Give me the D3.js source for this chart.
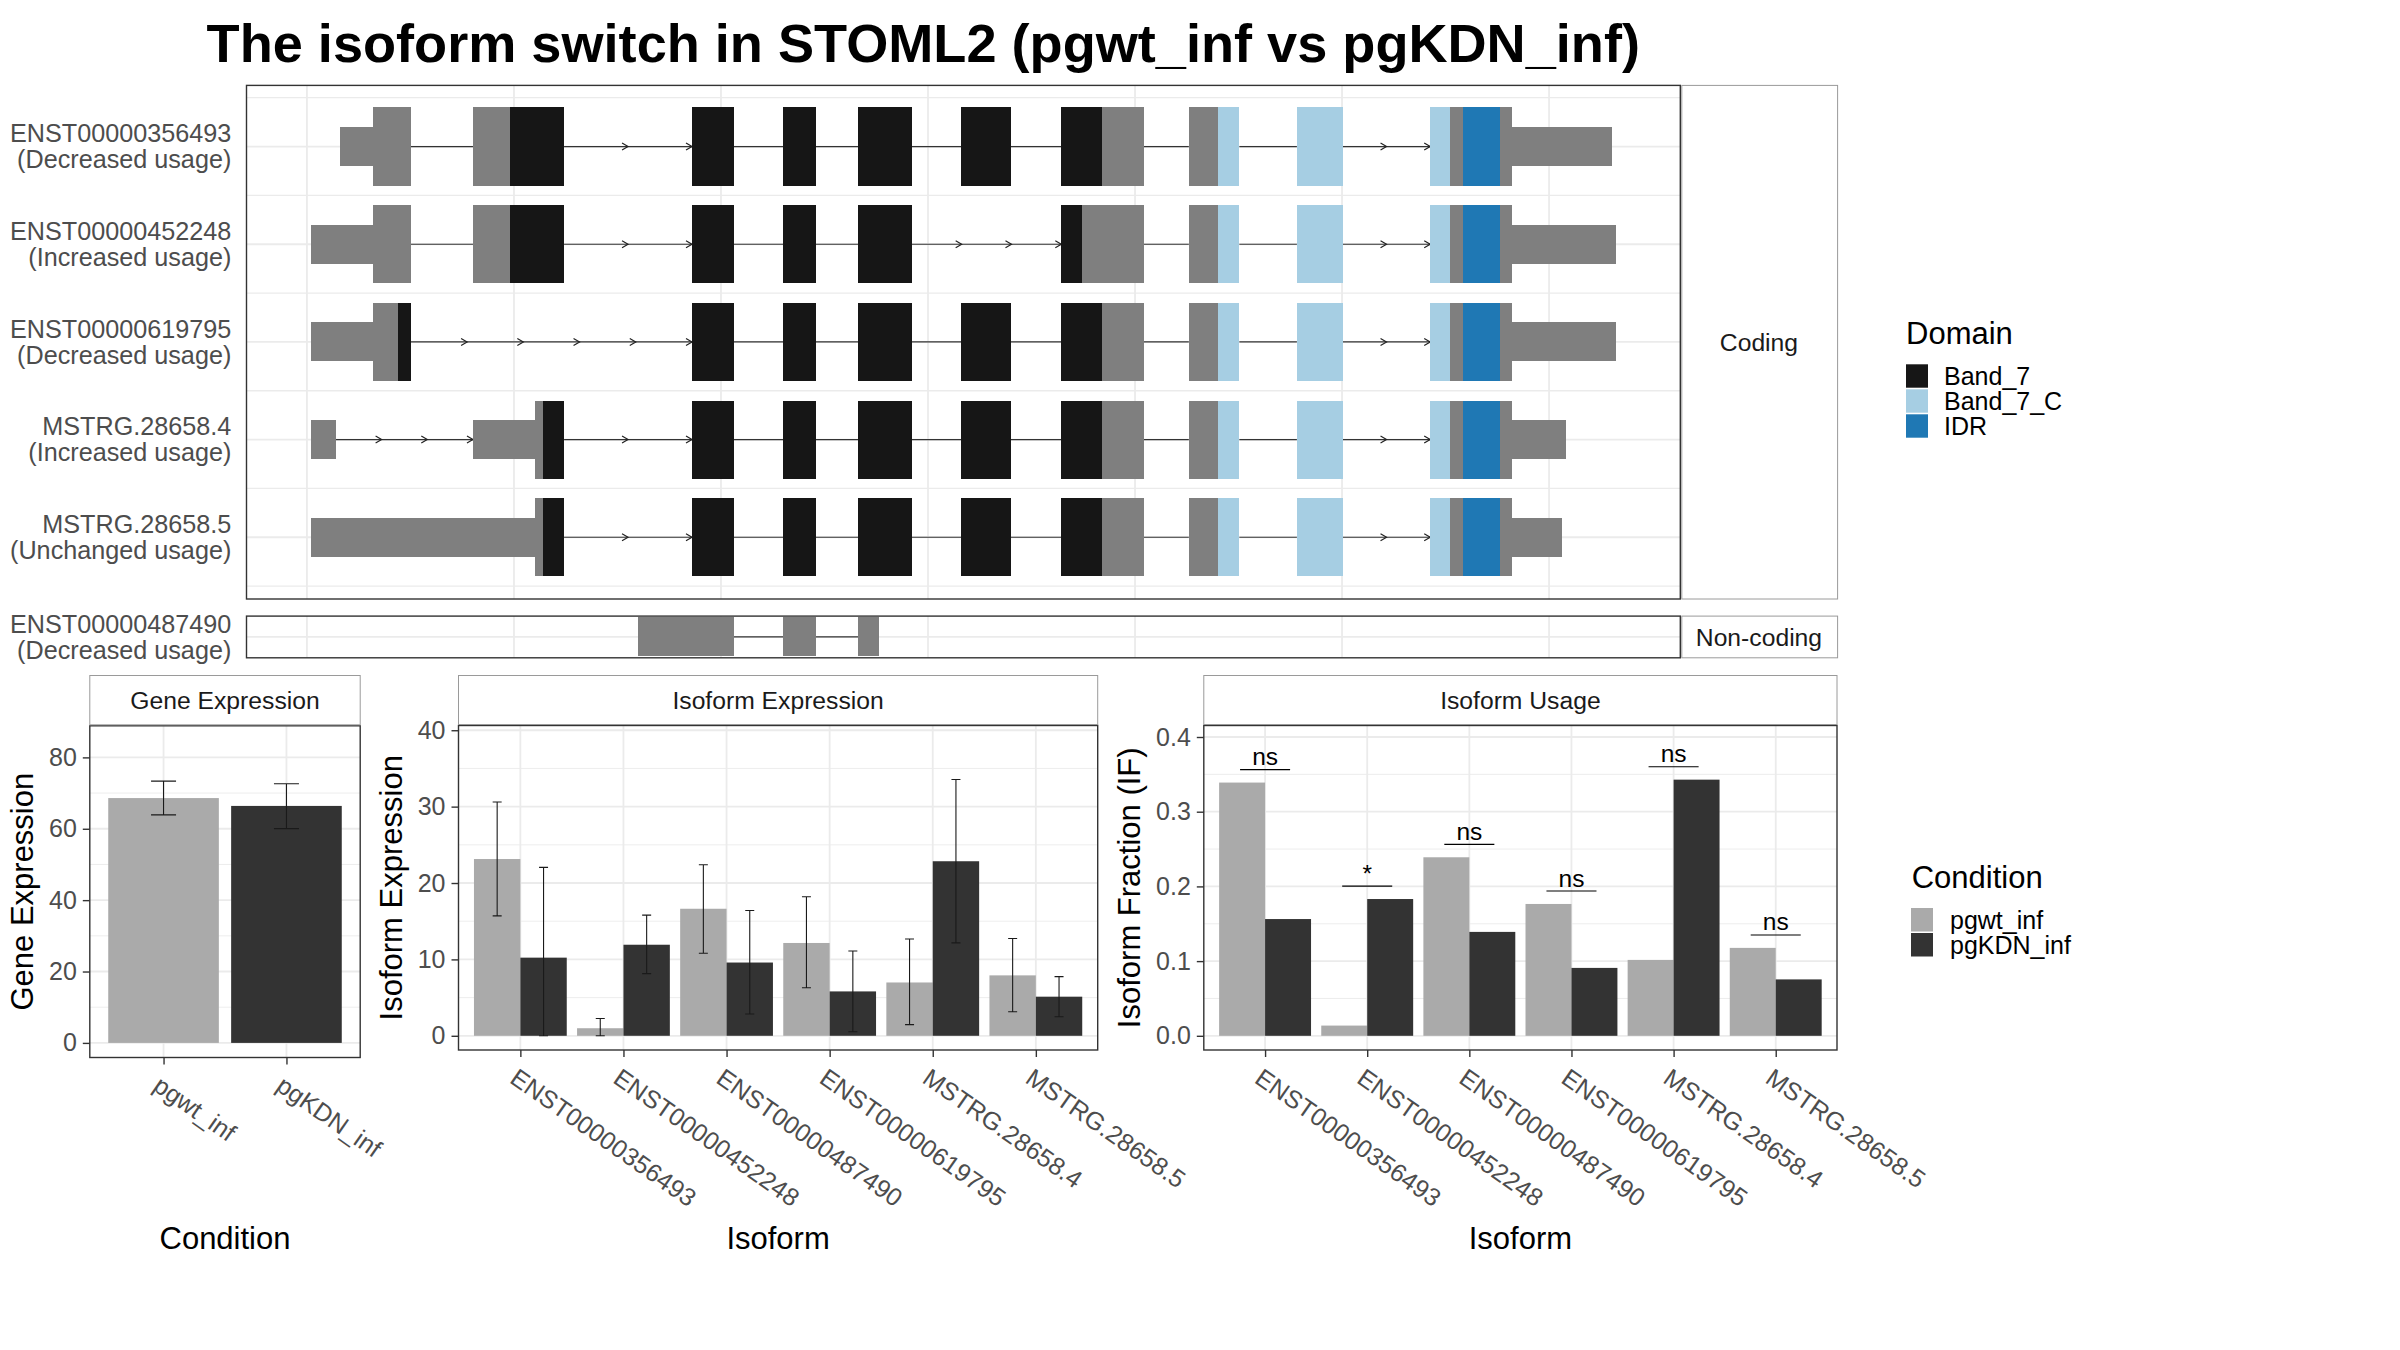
<!DOCTYPE html>
<html>
<head>
<meta charset="utf-8">
<script src="https://cdn.jsdelivr.net/npm/d3@7"></script>
<style>
  body { margin: 0; background: #fff; }
  text { font-family: "Liberation Sans", Arial, Helvetica, sans-serif; }
</style>
</head>
<body>
<svg id="chart" width="2400" height="1350"></svg>
<script>
// ---------- data ----------
const titleText = 'The isoform switch in STOML2 (pgwt_inf vs pgKDN_inf)'

// transcript structure (rescaled genomic coordinates), [start, end, feature]
const codingIds = ['ENST00000356493', 'ENST00000452248', 'ENST00000619795', 'MSTRG.28658.4', 'MSTRG.28658.5']
const codingUsage = ['(Decreased usage)', '(Increased usage)', '(Decreased usage)', '(Increased usage)', '(Unchanged usage)']
const nonCodingIds = ['ENST00000487490']
const nonCodingUsage = ['(Decreased usage)']

const segs356493 = [[579, 660, 'utr'], [660, 751, 'cds'], [901, 991, 'cds'], [991, 1121, 'Band_7'],
  [1430, 1531, 'Band_7'], [1650, 1729, 'Band_7'], [1831, 1961, 'Band_7'], [2080, 2200, 'Band_7'],
  [2322, 2421, 'Band_7'], [2421, 2521, 'cds'], [2630, 2701, 'cds'], [2701, 2752, 'Band_7_C'],
  [2891, 3002, 'Band_7_C'], [3213, 3261, 'Band_7_C'], [3261, 3292, 'cds'], [3292, 3382, 'IDR'],
  [3382, 3411, 'cds'], [3411, 3652, 'utr']]
const segs452248 = [[510, 660, 'utr'], [660, 751, 'cds'], [901, 991, 'cds'], [991, 1121, 'Band_7'],
  [1430, 1531, 'Band_7'], [1650, 1729, 'Band_7'], [1831, 1961, 'Band_7'],
  [2322, 2372, 'Band_7'], [2372, 2521, 'cds'], [2630, 2701, 'cds'], [2701, 2752, 'Band_7_C'],
  [2891, 3002, 'Band_7_C'], [3213, 3261, 'Band_7_C'], [3261, 3292, 'cds'], [3292, 3382, 'IDR'],
  [3382, 3411, 'cds'], [3411, 3662, 'utr']]
const segs619795 = [[510, 660, 'utr'], [660, 720, 'cds'], [720, 751, 'Band_7'],
  [1430, 1531, 'Band_7'], [1650, 1729, 'Band_7'], [1831, 1961, 'Band_7'], [2080, 2200, 'Band_7'],
  [2322, 2421, 'Band_7'], [2421, 2521, 'cds'], [2630, 2701, 'cds'], [2701, 2752, 'Band_7_C'],
  [2891, 3002, 'Band_7_C'], [3213, 3261, 'Band_7_C'], [3261, 3292, 'cds'], [3292, 3382, 'IDR'],
  [3382, 3411, 'cds'], [3411, 3662, 'utr']]
const segs28658_4 = [[510, 570, 'utr'], [901, 1051, 'utr'], [1051, 1070, 'cds'], [1070, 1121, 'Band_7'],
  [1430, 1531, 'Band_7'], [1650, 1729, 'Band_7'], [1831, 1961, 'Band_7'], [2080, 2200, 'Band_7'],
  [2322, 2421, 'Band_7'], [2421, 2521, 'cds'], [2630, 2701, 'cds'], [2701, 2752, 'Band_7_C'],
  [2891, 3002, 'Band_7_C'], [3213, 3261, 'Band_7_C'], [3261, 3292, 'cds'], [3292, 3382, 'IDR'],
  [3382, 3411, 'cds'], [3411, 3541, 'utr']]
const segs28658_5 = [[510, 1051, 'utr'], [1051, 1070, 'cds'], [1070, 1121, 'Band_7'],
  [1430, 1531, 'Band_7'], [1650, 1729, 'Band_7'], [1831, 1961, 'Band_7'], [2080, 2200, 'Band_7'],
  [2322, 2421, 'Band_7'], [2421, 2521, 'cds'], [2630, 2701, 'cds'], [2701, 2752, 'Band_7_C'],
  [2891, 3002, 'Band_7_C'], [3213, 3261, 'Band_7_C'], [3261, 3292, 'cds'], [3292, 3382, 'IDR'],
  [3382, 3411, 'cds'], [3411, 3532, 'utr']]
const segs487490 = [[1300, 1531, 'utr'], [1650, 1729, 'utr'], [1831, 1882, 'utr']]

// number of direction arrows drawn on each intron
const arrows356493 = [0, 2, 0, 0, 0, 0, 0, 0, 2]
const arrows452248 = [0, 2, 0, 0, 3, 0, 0, 2]
const arrows619795 = [5, 0, 0, 0, 0, 0, 0, 2]
const arrows28658_4 = [3, 2, 0, 0, 0, 0, 0, 0, 2]
const arrows28658_5 = [2, 0, 0, 0, 0, 0, 0, 2]
const arrows487490 = [0, 0]

const domains = ['Band_7', 'Band_7_C', 'IDR']
const domainColors = ['#161616', '#A6CEE3', '#1F78B4']

// expression / usage
const conditions = ['pgwt_inf', 'pgKDN_inf']
const conditionColors = ['#AAAAAA', '#333333']

const geneExpr = [68.6, 66.4]
const geneLow = [63.9, 60.05]
const geneHigh = [73.35, 72.6]

const isoforms = ['ENST00000356493', 'ENST00000452248', 'ENST00000487490', 'ENST00000619795', 'MSTRG.28658.4', 'MSTRG.28658.5']
const isoExprWt = [23.14, 0.99, 16.63, 12.15, 6.98, 7.91]
const isoExprKdn = [10.23, 11.92, 9.59, 5.81, 22.85, 5.12]
const isoLowWt = [15.7, 0, 10.8, 6.28, 1.46, 3.14]
const isoHighWt = [30.6, 2.27, 22.4, 18.2, 12.67, 12.74]
const isoLowKdn = [0, 8.14, 2.85, 0.52, 12.16, 2.5]
const isoHighKdn = [22.05, 15.8, 16.4, 11.1, 33.56, 7.74]

const usageWt = [0.339, 0.0137, 0.239, 0.1765, 0.1016, 0.1177]
const usageKdn = [0.1563, 0.1831, 0.1391, 0.0909, 0.3429, 0.0755]
const usageSig = ['ns', '*', 'ns', 'ns', 'ns', 'ns']

const geneTicks = [0, 20, 40, 60, 80]
const isoTicks = [0, 10, 20, 30, 40]
const usageTicks = [0, 0.1, 0.2, 0.3, 0.4]

// ---------- drawing ----------
const svg = d3.select('#chart')
svg.append('rect').attr('width', 2400).attr('height', 1350).attr('fill', '#fff')

const GRID = '#EBEBEB'
const BORDER = '#333333'
const STRIP_BORDER = '#9A9A9A'
const TICK_FS = 25
const LABEL_FS = 25.2
const CAP = 0.716 * TICK_FS

// title, fitted to the reference width
const title = svg.append('text')
  .attr('x', 206.6).attr('y', 62)
  .attr('font-weight', 'bold').attr('font-size', 57).attr('fill', '#000')
  .text(titleText)
const tw = title.node().getComputedTextLength()
title.attr('font-size', 57 * 1434 / tw)

// --- transcript panels ---
const featColor = { utr: '#7F7F7F', cds: '#7F7F7F', Band_7: domainColors[0], Band_7_C: domainColors[1], IDR: domainColors[2] }
const xGen = d3.scaleLinear().domain([354, 3817]).range([246.5, 1680.3])
const codingY = d3.scaleLinear().domain([0.374, 5.632]).range([85.4, 599])
const ncY = d3.scaleLinear().domain([0.7866, 1.2134]).range([616.1, 657.8])

const codingRows = [
  { segs: segs356493, arrows: arrows356493 },
  { segs: segs452248, arrows: arrows452248 },
  { segs: segs619795, arrows: arrows619795 },
  { segs: segs28658_4, arrows: arrows28658_4 },
  { segs: segs28658_5, arrows: arrows28658_5 }
]
const ncRows = [{ segs: segs487490, arrows: arrows487490 }]

function transcriptPanel(rows, ids, usage, y, stripLabel) {
  const g = svg.append('g')
  const [top, bottom] = y.range()
  const [left, right] = xGen.range()

  // grid
  xGen.ticks(7).forEach(t => {
    g.append('line').attr('x1', xGen(t)).attr('x2', xGen(t)).attr('y1', top).attr('y2', bottom)
      .attr('stroke', GRID).attr('stroke-width', 1.8)
  })
  const [d0, d1] = y.domain()
  for (let v = Math.ceil(d0 * 2) / 2; v <= d1; v += 0.5) {
    g.append('line').attr('x1', left).attr('x2', right).attr('y1', y(v)).attr('y2', y(v))
      .attr('stroke', GRID).attr('stroke-width', Number.isInteger(v) ? 1.8 : 1.3)
  }

  rows.forEach((row, i) => {
    const yc = y(i + 1)
    // merge contiguous segments into exons
    const exons = []
    row.segs.forEach(s => {
      const last = exons[exons.length - 1]
      if (last && last[1] === s[0]) last[1] = s[1]
      else exons.push([s[0], s[1]])
    })
    // introns with direction arrows
    for (let k = 0; k < exons.length - 1; k++) {
      const x0 = xGen(exons[k][1]), x1 = xGen(exons[k + 1][0])
      g.append('line').attr('x1', x0).attr('x2', x1).attr('y1', yc).attr('y2', yc)
        .attr('stroke', '#333').attr('stroke-width', 1.2)
      const n = row.arrows[k] || 0
      for (let j = 1; j <= n; j++) {
        const ax = x0 + (x1 - x0) * j / n
        g.append('path').attr('d', `M${ax - 6},${yc - 3.5}L${ax},${yc}L${ax - 6},${yc + 3.5}`)
          .attr('fill', 'none').attr('stroke', '#222').attr('stroke-width', 1.2)
      }
    }
    // exon blocks
    const half = d => (d[2] === 'utr' ? 0.2 : 0.4)
    g.selectAll(null).data(row.segs).enter().append('rect')
      .attr('x', d => xGen(d[0]))
      .attr('width', d => xGen(d[1]) - xGen(d[0]))
      .attr('y', d => y(i + 1 - half(d)))
      .attr('height', d => y(i + 1 + half(d)) - y(i + 1 - half(d)))
      .attr('fill', d => featColor[d[2]])
      .attr('shape-rendering', 'crispEdges')

    // row label
    const lab = svg.append('text').attr('text-anchor', 'end').attr('font-size', LABEL_FS).attr('fill', '#4D4D4D')
    lab.append('tspan').attr('x', 231.3).attr('y', yc - 4.3).text(ids[i])
    lab.append('tspan').attr('x', 231.3).attr('y', yc + 21.9).text(usage[i])
  })

  g.append('rect').attr('x', left).attr('y', top).attr('width', right - left).attr('height', bottom - top)
    .attr('fill', 'none').attr('stroke', BORDER).attr('stroke-width', 1.4)

  // facet strip
  g.append('rect').attr('x', right + 1.5).attr('y', top).attr('width', 1837.6 - right - 1.5).attr('height', bottom - top)
    .attr('fill', '#fff').attr('stroke', STRIP_BORDER).attr('stroke-width', 1)
  g.append('text').attr('x', (right + 1837.6) / 2).attr('y', (top + bottom) / 2 + 8.8)
    .attr('text-anchor', 'middle').attr('font-size', 24.7).attr('fill', '#1A1A1A').text(stripLabel)
}

transcriptPanel(codingRows, codingIds, codingUsage, codingY, 'Coding')
transcriptPanel(ncRows, nonCodingIds, nonCodingUsage, ncY, 'Non-coding')

// --- domain legend ---
const domLeg = svg.append('g')
domLeg.append('text').attr('x', 1906).attr('y', 344).attr('font-size', 31).attr('fill', '#000').text('Domain')
domains.forEach((d, i) => {
  domLeg.append('rect').attr('x', 1906).attr('y', 364.3 + i * 25).attr('width', 22).attr('height', 23.4)
    .attr('fill', domainColors[i])
  domLeg.append('text').attr('x', 1944).attr('y', 364.3 + i * 25 + 11.7 + 9).attr('font-size', 25)
    .attr('fill', '#000').text(d)
})

// --- bar panels ---
function barPanel(cfg) {
  const g = svg.append('g')
  const y = d3.scaleLinear().domain(cfg.yDomain).range([cfg.bottom, cfg.top])
  const x = d3.scalePoint().domain(cfg.categories).range([cfg.left, cfg.right]).padding(0.6)
  const step = x.step()

  // grid
  const t = cfg.ticks
  const stepT = t[1] - t[0]
  const minor = [t[0] - stepT / 2].concat(t.map(v => v + stepT / 2))
    .filter(v => v > cfg.yDomain[0] && v < cfg.yDomain[1])
  minor.forEach(v => g.append('line').attr('x1', cfg.left).attr('x2', cfg.right).attr('y1', y(v)).attr('y2', y(v))
    .attr('stroke', GRID).attr('stroke-width', 0.9))
  t.forEach(v => g.append('line').attr('x1', cfg.left).attr('x2', cfg.right).attr('y1', y(v)).attr('y2', y(v))
    .attr('stroke', GRID).attr('stroke-width', 1.8))
  cfg.categories.forEach(c => g.append('line').attr('x1', x(c)).attr('x2', x(c)).attr('y1', cfg.top).attr('y2', cfg.bottom)
    .attr('stroke', GRID).attr('stroke-width', 1.8))

  // bars
  const nS = cfg.series.length
  const bw = 0.9 * step / nS
  cfg.series.forEach((s, si) => {
    const off = -0.45 * step + si * bw
    g.selectAll(null).data(cfg.categories).enter().append('rect')
      .attr('x', (c) => x(c) + off)
      .attr('width', bw)
      .attr('y', (c, i) => y(s.values[i]))
      .attr('height', (c, i) => y(0) - y(s.values[i]))
      .attr('fill', (c, i) => (s.colors ? s.colors[i] : s.color))
    if (s.low) {
      const cap = cfg.capWidth
      cfg.categories.forEach((c, i) => {
        const cx = x(c) + off + bw / 2
        const yl = y(s.low[i]), yh = y(s.high[i])
        g.append('path')
          .attr('d', `M${cx - cap / 2},${yh}H${cx + cap / 2}M${cx},${yh}V${yl}M${cx - cap / 2},${yl}H${cx + cap / 2}`)
          .attr('fill', 'none').attr('stroke', '#1A1A1A').attr('stroke-width', 1.1)
      })
    }
  })

  // significance marks
  if (cfg.sig) {
    cfg.categories.forEach((c, i) => {
      const top = Math.max(...cfg.series.map(s => s.values[i])) + 0.0173
      const yy = y(top)
      g.append('line').attr('x1', x(c) - 0.245 * step).attr('x2', x(c) + 0.245 * step)
        .attr('y1', yy).attr('y2', yy).attr('stroke', '#000').attr('stroke-width', 1.1)
      g.append('text').attr('x', x(c)).attr('y', yy - 4.5).attr('text-anchor', 'middle')
        .attr('font-size', 24.5).attr('fill', '#000').text(cfg.sig[i])
    })
  }

  // border
  g.append('rect').attr('x', cfg.left).attr('y', cfg.top).attr('width', cfg.right - cfg.left)
    .attr('height', cfg.bottom - cfg.top).attr('fill', 'none').attr('stroke', BORDER).attr('stroke-width', 1.4)

  // strip
  g.append('rect').attr('x', cfg.left).attr('y', 675.5).attr('width', cfg.right - cfg.left)
    .attr('height', cfg.top - 675.5 - 1).attr('fill', '#fff').attr('stroke', STRIP_BORDER).attr('stroke-width', 1)
  g.append('text').attr('x', (cfg.left + cfg.right) / 2).attr('y', (675.5 + cfg.top) / 2 + 8.8)
    .attr('text-anchor', 'middle').attr('font-size', 24.7).attr('fill', '#1A1A1A').text(cfg.strip)

  // axes
  const ay = g.append('g').attr('transform', `translate(${cfg.left},0)`)
    .call(d3.axisLeft(y).tickValues(t).tickFormat(cfg.tickFormat).tickSize(7).tickPadding(6))
  ay.select('.domain').remove()
  ay.selectAll('line').attr('stroke', BORDER).attr('stroke-width', 1.4)
  ay.selectAll('text').attr('font-size', TICK_FS).attr('fill', '#4D4D4D').attr('font-family', null)

  const ax = g.append('g').attr('transform', `translate(0,${cfg.bottom})`)
    .call(d3.axisBottom(x).tickSize(7))
  ax.select('.domain').remove()
  ax.selectAll('line').attr('stroke', BORDER).attr('stroke-width', 1.4)
  ax.selectAll('text')
    .attr('x', null).attr('y', CAP).attr('dy', null)
    .attr('text-anchor', 'start')
    .attr('transform', 'translate(-2,17) rotate(35)')
    .attr('font-size', TICK_FS).attr('fill', '#4D4D4D').attr('font-family', null)

  // axis titles
  g.append('text').attr('transform', `translate(${cfg.yTitleX},${(cfg.top + cfg.bottom) / 2}) rotate(-90)`)
    .attr('text-anchor', 'middle').attr('font-size', 31).attr('fill', '#000').text(cfg.yTitle)
  g.append('text').attr('x', (cfg.left + cfg.right) / 2).attr('y', 1249)
    .attr('text-anchor', 'middle').attr('font-size', 31).attr('fill', '#000').text(cfg.xTitle)
}

barPanel({
  left: 89.8, right: 360.2, top: 725.8, bottom: 1057.5,
  yDomain: [-4.09, 88.85], ticks: geneTicks, tickFormat: d3.format('d'),
  categories: conditions,
  series: [{ values: geneExpr, low: geneLow, high: geneHigh, colors: conditionColors }],
  capWidth: 25, strip: 'Gene Expression', yTitle: 'Gene Expression', yTitleX: 33, xTitle: 'Condition'
})

barPanel({
  left: 458.5, right: 1097.7, top: 725.5, bottom: 1050,
  yDomain: [-1.86, 40.62], ticks: isoTicks, tickFormat: d3.format('d'),
  categories: isoforms,
  series: [
    { values: isoExprWt, low: isoLowWt, high: isoHighWt, color: conditionColors[0] },
    { values: isoExprKdn, low: isoLowKdn, high: isoHighKdn, color: conditionColors[1] }
  ],
  capWidth: 9, strip: 'Isoform Expression', yTitle: 'Isoform Expression', yTitleX: 401.5, xTitle: 'Isoform'
})

barPanel({
  left: 1203.8, right: 1837, top: 725.5, bottom: 1050,
  yDomain: [-0.019, 0.4154], ticks: usageTicks, tickFormat: d3.format('.1f'),
  categories: isoforms,
  series: [
    { values: usageWt, color: conditionColors[0] },
    { values: usageKdn, color: conditionColors[1] }
  ],
  sig: usageSig,
  strip: 'Isoform Usage', yTitle: 'Isoform Fraction (IF)', yTitleX: 1140, xTitle: 'Isoform'
})

// --- condition legend ---
const condLeg = svg.append('g')
condLeg.append('text').attr('x', 1911.7).attr('y', 887.7).attr('font-size', 31).attr('fill', '#000').text('Condition')
conditions.forEach((c, i) => {
  condLeg.append('rect').attr('x', 1911).attr('y', 908 + i * 25).attr('width', 22).attr('height', 23.5)
    .attr('fill', conditionColors[i])
  condLeg.append('text').attr('x', 1950).attr('y', 908 + i * 25 + 11.75 + 9).attr('font-size', 25)
    .attr('fill', '#000').text(c)
})
</script>
</body>
</html>
